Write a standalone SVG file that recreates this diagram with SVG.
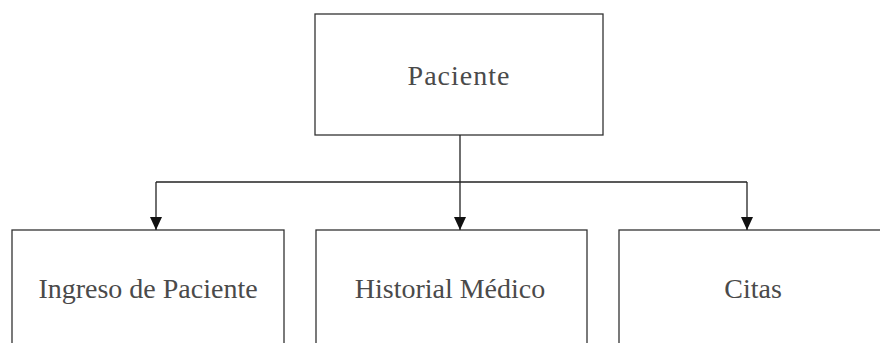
<svg xmlns="http://www.w3.org/2000/svg" width="880" height="343" viewBox="0 0 880 343">
<style>
.box{fill:#fff;stroke:#333;stroke-width:1.3}
.lbl{font-family:"Liberation Serif","Times New Roman",serif;font-size:28px;fill:#4a4a4a;text-anchor:middle}
.con{fill:none;stroke:#222;stroke-width:1.3}
</style>
<defs>
<marker id="ah" viewBox="0 0 13 12" refX="13" refY="6" markerWidth="13" markerHeight="12" markerUnits="userSpaceOnUse" orient="auto">
<path d="M0,0 L13,6 L0,12 Z" fill="#111"/>
</marker>
</defs>
<rect width="880" height="343" fill="#fff"/>
<g id="node-paciente">
<rect class="box" x="315" y="14" width="288" height="121"/>
<text class="lbl" x="459" y="85" letter-spacing="1">Paciente</text>
</g>
<g id="node-ingreso">
<rect class="box" x="12" y="230" width="272" height="140"/>
<text class="lbl" x="148" y="298">Ingreso de Paciente</text>
</g>
<g id="node-historial">
<rect class="box" x="316" y="230" width="271" height="140"/>
<text class="lbl" x="450" y="298">Historial Médico</text>
</g>
<g id="node-citas">
<rect class="box" x="619" y="230" width="270" height="140"/>
<text class="lbl" x="753" y="298">Citas</text>
</g>
<g id="connectors">
<path class="con" d="M460,135 V182"/>
<path class="con" d="M156,182 H747"/>
<path class="con" d="M156,182 V230" marker-end="url(#ah)"/>
<path class="con" d="M460,182 V230" marker-end="url(#ah)"/>
<path class="con" d="M747,182 V230" marker-end="url(#ah)"/>
</g>
</svg>
